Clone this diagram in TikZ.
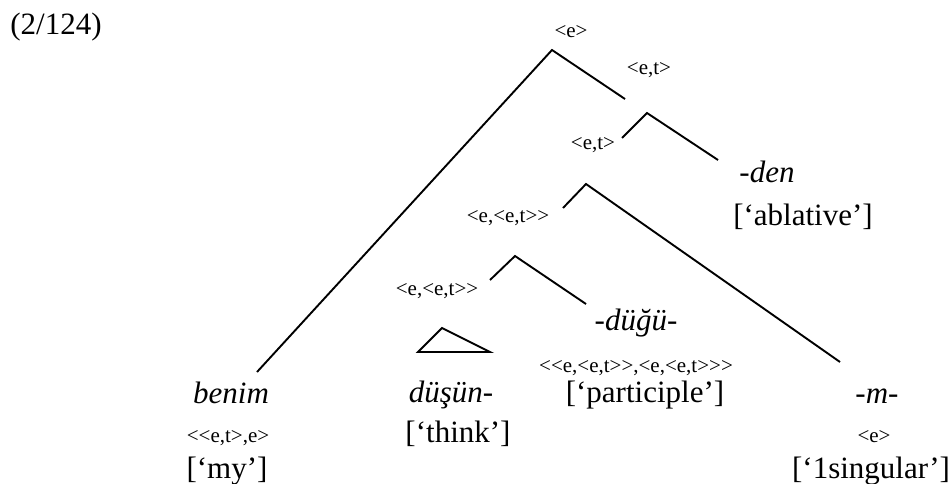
\documentclass[tikz,border=0pt]{standalone}
\usepackage{fontspec}
\setmainfont{Liberation Serif}
\newcommand\lang{<\kern0pt}
\newcommand\rang{>\kern0pt}
\begin{document}
\begin{tikzpicture}[x=1pt,y=-1pt,
  big/.style={font=\fontsize{31}{31}\selectfont, inner sep=0pt, anchor=base},
  small/.style={font=\fontsize{21}{21}\selectfont, inner sep=0pt, anchor=base},
  branch/.style={line width=1.9pt, line cap=butt}]
\useasboundingbox (0,0) rectangle (952,484);

% tree points
\coordinate (r) at (552,50);
\coordinate (rR) at (625,99);
\coordinate (rL) at (257,372);
\coordinate (a) at (647,113);
\coordinate (aL) at (622,138);
\coordinate (aR) at (718,160);
\coordinate (b) at (586,184);
\coordinate (bL) at (563,208);
\coordinate (bR) at (840,362);
\coordinate (c) at (515,256);
\coordinate (cL) at (490,280);
\coordinate (cR) at (586,304);
\coordinate (t1) at (442,328);
\coordinate (t2) at (418,352);
\coordinate (t3) at (490,352);

\draw[branch] (rL) -- (r) -- (rR);
\draw[branch] (aL) -- (a) -- (aR);
\draw[branch] (bL) -- (b) -- (bR);
\draw[branch] (cL) -- (c) -- (cR);
\draw[branch, line join=miter] (t1) -- (t2) -- (t3) -- cycle;

% labels
\node[big] (num) at (56,35) {(2/124)};
\node[small] (lr) at (571,38) {\lang e\rang};
\node[small] (la1) at (649,75) {\lang e,t\rang};
\node[small] (la2) at (593,149) {\lang e,t\rang};
\node[small] (lb) at (508,222) {\lang e,\lang e,t\rang\rang};
\node[small] (lc) at (437,295) {\lang e,\lang e,t\rang\rang};

\node[big] (den) at (767,182) {\itshape -den};
\node[big] (abl) at (803,225) {[‘ablative’]};

\node[big] (benim) at (231,403) {\itshape benim};
\node[small] (benimT) at (228,442) {\lang\lang e,t\rang,e\rang};
\node[big] (my) at (227,478) {[‘my’]};

\node[big] (dusun) at (451,402) {\itshape düşün-};
\node[big] (think) at (458,442) {[‘think’]};

\node[big] (dugu) at (636,330) {\itshape -düğü-};
\node[small] (duguT) at (636,372) {\lang\lang e,\lang e,t\rang\rang,\lang e,\lang e,t\rang\rang\rang};
\node[big] (part) at (645,402) {[‘participle’]};

\node[big] (m) at (877,403) {\itshape -m-};
\node[small] (mT) at (874,442) {\lang e\rang};
\node[big] (sing) at (871,478) {[‘1singular’]};
\end{tikzpicture}
\end{document}
